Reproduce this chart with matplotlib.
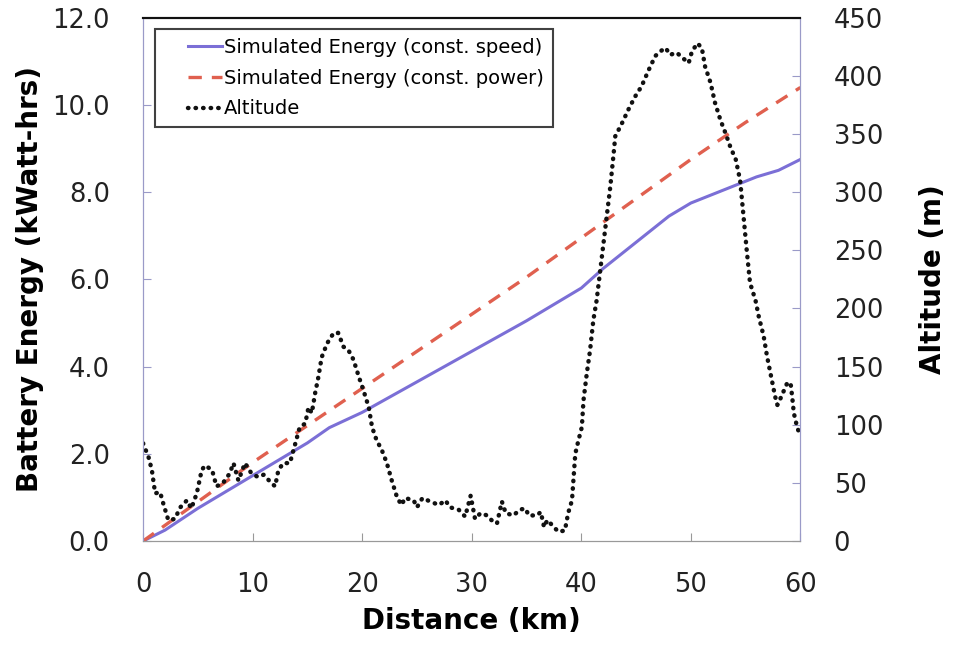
import matplotlib as mpl
import matplotlib.pyplot as plt
from matplotlib.legend_handler import HandlerLine2D
from matplotlib.lines import Line2D

mpl.rcParams['font.family'] = ['DejaVu Sans']

# Battery energy, constant speed (km, kWh)
speed_km = [0, 2, 5, 10, 15, 17, 20, 25, 30, 35, 38, 40, 42, 44, 46, 48, 50, 52, 54, 56, 58, 60]
speed_energy = [0, 0.25, 0.75, 1.5, 2.25, 2.6, 2.95, 3.65, 4.35, 5.05, 5.5, 5.8, 6.25, 6.65,
                7.05, 7.45, 7.75, 7.95, 8.15, 8.35, 8.5, 8.75]

# Battery energy, constant power (km, kWh)
power_km = [0, 5, 10, 15, 20, 25, 30, 35, 40, 45, 50, 55, 60]
power_energy = [0, 0.9, 1.8, 2.65, 3.5, 4.35, 5.2, 6.05, 6.95, 7.85, 8.75, 9.6, 10.4]

# Altitude profile (km, m)
alt_km = [0, 0.5, 0.8, 1.1, 1.55, 1.85, 2.3, 2.9, 3.4, 4.0, 4.4, 4.9, 5.35, 5.66, 6.3, 6.7,
          7.3, 7.9, 8.25, 8.7, 9.3, 9.9, 10.5, 11.0, 11.6, 12.05, 12.35, 12.8, 13.4, 13.9,
          14.3, 14.8, 15.1, 15.4, 15.7, 16.0, 16.3, 16.8, 17.4, 17.8, 18.3, 18.75, 19.2,
          19.7, 20.1, 20.6, 20.9, 21.3, 21.8, 22.25, 22.7, 23.2, 23.6, 23.9, 24.7, 25.0,
          25.5, 26.2, 27.0, 27.6, 28.0, 28.8, 29.4, 29.9, 30.3, 30.8, 31.4, 31.8, 32.3,
          32.75, 33.1, 33.8, 34.4, 34.9, 35.2, 35.95, 36.3, 36.6, 36.9, 37.5, 37.9, 38.5,
          38.8, 39.15, 39.3, 39.45, 39.75, 40.05, 40.2, 40.5, 40.8, 41.1, 41.4, 42.35,
          42.65, 42.95, 43.1, 43.7, 44.3, 44.9, 45.5, 46.15, 46.75, 47.2, 47.7, 48.1, 48.7,
          49.3, 49.8, 50.1, 50.6, 51.0, 51.3, 51.8, 52.2, 52.7, 53.15, 53.6, 54.1, 54.5,
          54.8, 55.1, 55.4, 55.9, 56.2, 56.65, 56.95, 57.4, 57.7, 57.9, 58.2, 58.8, 59.1,
          59.25, 59.4, 59.7, 60]
alt_m = [84, 72, 61, 41, 42, 32, 18, 19, 29, 35, 28, 41, 61, 65, 61, 47,
         50, 58, 67, 52, 67, 58, 55, 57, 51, 47, 61, 67, 67, 84,
         98, 101, 115, 110, 127, 141, 158, 170, 179, 179, 167, 164, 156,
         141, 130, 115, 98, 87, 78, 67, 52, 37, 31, 37, 35, 29,
         37, 34, 31, 35, 29, 27, 21, 39, 19, 24, 22, 18, 15,
         34, 24, 22, 27, 28, 22, 22, 25, 12, 18, 12, 8, 9,
         24, 35, 55, 75, 87, 98, 121, 144, 164, 190, 207, 282,
         305, 333, 348, 359, 371, 382, 391, 405, 417, 421, 424, 418, 420,
         415, 411, 421, 428, 424, 408, 394, 377, 362, 351, 339, 328, 310,
         280, 250, 222, 207, 193, 176, 159, 138, 124, 117, 123, 136, 136,
         124, 110, 98, 90]

x_ticks = [0, 10, 20, 30, 40, 50, 60]
energy_ticks = [0, 2, 4, 6, 8, 10, 12]
alt_ticks = [0, 50, 100, 150, 200, 250, 300, 350, 400, 450]

fig = plt.figure(figsize=(9.54, 6.55), dpi=100)
ax = fig.add_axes([0.150, 0.174, 0.689, 0.799])
ax2 = ax.twinx()

l1, = ax.plot(speed_km, speed_energy, color='#7b6fd6', lw=2.2,
              label='Simulated Energy (const. speed)')
l2, = ax.plot(power_km, power_energy, color='#e0604f', lw=2.4, linestyle=(0, (4, 3)),
              label='Simulated Energy (const. power)')
l3, = ax2.plot(alt_km, alt_m, color='#111111', lw=3.2, linestyle=(0, (0.1, 1.6)),
               dash_capstyle='round', label='Altitude')

ax.set_xlim(0, 60)
ax.set_ylim(0, 12)
ax2.set_ylim(0, 450)
ax.set_xticks(x_ticks)
ax.set_yticks(energy_ticks)
ax.set_yticklabels(['{:.1f}'.format(v) for v in energy_ticks])
ax2.set_yticks(alt_ticks)

ax.tick_params(axis='y', direction='in', labelsize=18.5, colors='#9a9ac8',
               labelcolor='#222222', length=6, pad=24)
ax.tick_params(axis='x', direction='in', labelsize=18.5, colors='#999999',
               labelcolor='#222222', length=6, pad=22)
ax2.tick_params(axis='y', direction='in', labelsize=18.5, colors='#9a9ac8',
                labelcolor='#222222', length=6, pad=24)

for a in (ax, ax2):
    a.spines['left'].set_color('#9a9ac8')
    a.spines['right'].set_color('#9a9ac8')
    a.spines['bottom'].set_color('#999999')
    a.spines['top'].set_color('#111111')
    a.spines['top'].set_linewidth(1.5)

ax.set_xlabel('Distance (km)', fontsize=20, fontweight='bold', labelpad=7)
ax.set_ylabel('Battery Energy (kWatt-hrs)', fontsize=20, fontweight='bold', labelpad=6)
ax2.set_ylabel('Altitude (m)', fontsize=20, fontweight='bold', labelpad=26)

leg = ax2.legend(handles=[l1, l2, l3], loc='upper left', bbox_to_anchor=(0.0, 1.0),
                 fontsize=14, frameon=True, fancybox=False, handlelength=3.0,
                 handletextpad=0.12, borderpad=0.45, labelspacing=0.6,
                 borderaxespad=0.6,
                 handler_map={Line2D: HandlerLine2D(xpad=1.25)})
leg.get_frame().set_edgecolor('#111111')
leg.get_frame().set_linewidth(1.5)

fig.savefig('out.png', dpi=100)
